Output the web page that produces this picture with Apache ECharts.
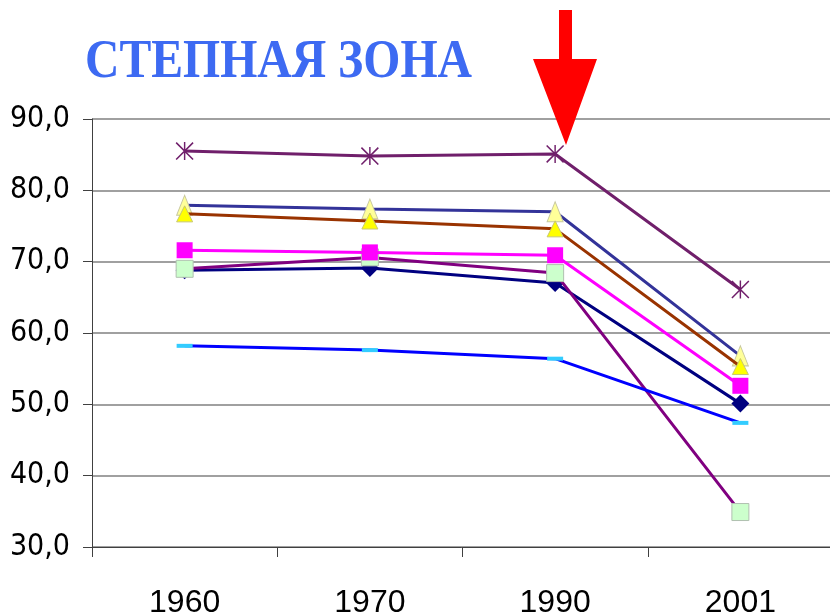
<!DOCTYPE html>
<html>
<head>
<meta charset="utf-8">
<script src="https://cdn.jsdelivr.net/npm/echarts@6/dist/echarts.min.js"></script>
<style>
html,body{margin:0;padding:0;background:#fff;}
#chart{width:830px;height:616px;}
</style>
</head>
<body>
<div id="chart"></div>
<script>
// ---- data ----
var years = ['1960', '1970', '1990', '2001'];
var yTickLabels = ['30,0', '40,0', '50,0', '60,0', '70,0', '80,0', '90,0'];
var seriesNavyDiamond = [68.8, 69.1, 67.0, 50.1];
var seriesPurpleGreenSq = [69.0, 70.6, 68.4, 34.9];
var seriesMagentaSq = [71.6, 71.3, 70.9, 52.6];
var seriesBrownYellowTri = [76.7, 75.7, 74.6, 55.3];
var seriesSlatePaleTri = [77.9, 77.4, 77.0, 56.8];
var seriesPurpleStar = [85.5, 84.8, 85.1, 66.1];
var seriesBlueDash = [58.2, 57.6, 56.4, 47.4];
var titleText = 'СТЕПНАЯ ЗОНА';

var starPath = 'path://M9.2,0L10.8,0L10.8,20L9.2,20Z M0,1.2L1.2,0L20,18.8L18.8,20Z M18.8,0L20,1.2L1.2,20L0,18.8Z';

function lineSeries(name, data, lineColor, symbol, size, fill, border, z) {
  return {
    name: name, type: 'line', data: data, z: z,
    symbol: symbol, symbolSize: size, showSymbol: true,
    lineStyle: { color: lineColor, width: 3 },
    itemStyle: { color: fill, borderColor: border || fill, borderWidth: border ? 1 : 0, opacity: 1 },
    emphasis: { disabled: true },
    animation: false
  };
}

var chart = echarts.init(document.getElementById('chart'), null, { renderer: 'canvas' });
chart.setOption({
  backgroundColor: '#ffffff',
  animation: false,
  grid: { left: 92, width: 741, top: 119, height: 428, containLabel: false, outerBoundsMode: 'none' },
  xAxis: {
    type: 'category', data: years, boundaryGap: true,
    axisLine: { show: true, lineStyle: { color: '#404040', width: 1 } },
    axisTick: { show: true, length: 10, interval: 0, lineStyle: { color: '#404040' } },
    axisLabel: { interval: 0, margin: 40, color: '#000', fontSize: 32, fontFamily: '"Liberation Sans Narrow","Liberation Sans",sans-serif' },
    splitLine: { show: false }
  },
  yAxis: {
    type: 'value', min: 30, max: 90, interval: 10,
    axisLine: { show: true, lineStyle: { color: '#404040', width: 1 } },
    axisTick: { show: true, length: 9, lineStyle: { color: '#404040' } },
    axisLabel: {
      margin: 22, color: '#000', fontSize: 30, fontFamily: '"DejaVu Sans Condensed","DejaVu Sans",sans-serif',
      formatter: function (v) { return yTickLabels[Math.round((v - 30) / 10)]; }
    },
    splitLine: { show: true, lineStyle: { color: '#808080', width: 1.5 } }
  },
  series: [
    lineSeries('s1', seriesNavyDiamond, '#000080', 'diamond', 18, '#000080', null, 2),
    lineSeries('s2', seriesPurpleGreenSq, '#800080', 'rect', 17, '#CCFFCC', '#b0c0b0', 3),
    lineSeries('s3', seriesMagentaSq, '#FF00FF', 'rect', 16, '#FF00FF', null, 4),
    lineSeries('s4', seriesBrownYellowTri, '#993300', 'triangle', [16, 16], '#FFFF00', '#c8c870', 5),
    lineSeries('s5', seriesSlatePaleTri, '#333399', 'triangle', [16, 20], '#FFFF99', '#c8c8a0', 4),
    lineSeries('s6', seriesPurpleStar, '#701F6B', starPath, 18, '#701F6B', null, 6),
    lineSeries('s7', seriesBlueDash, '#0000FF', 'rect', [16, 4], '#33CCFF', null, 5)
  ],
  graphic: [
    {
      type: 'text', x: 85, y: 63, scaleX: 0.9, scaleY: 1.03, z: 100,
      style: { text: titleText, x: 0, y: 0, verticalAlign: 'middle', align: 'left',
        font: 'bold 53px "Liberation Serif","Times New Roman",serif', fill: '#3D6AF2' }
    },
    {
      type: 'polygon', z: 100,
      shape: { points: [[559, 10], [572, 10], [572, 59], [597, 59], [566, 145], [533, 59], [559, 59]] },
      style: { fill: '#FF0000' }
    }
  ]
});
</script>
</body>
</html>
